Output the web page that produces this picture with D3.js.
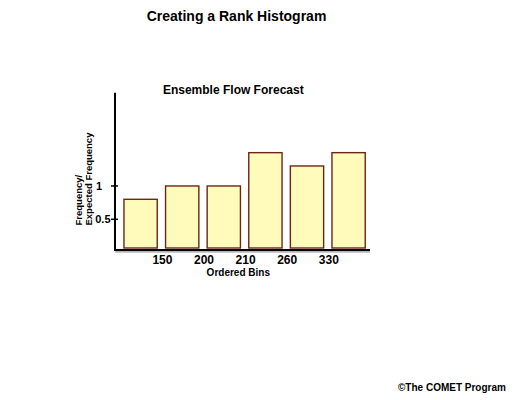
<!DOCTYPE html>
<html><head><meta charset="utf-8">
<script src="https://cdn.jsdelivr.net/npm/d3@7"></script>
<style>
html,body{margin:0;padding:0;background:#fff;}
text{font-family:"Liberation Sans",Arial,sans-serif;font-weight:bold;fill:#000;}
</style></head>
<body>
<svg id="c" width="517" height="400"></svg>
<script>
const bins = ["bin1","bin2","bin3","bin4","bin5","bin6"];
const values = [0.8, 1.0, 1.0, 1.5, 1.3, 1.5];
const edgeLabels = ["150","200","210","260","330"];
const yTicks = [0.5, 1];

const svg = d3.select("#c");
svg.append("rect").attr("width",517).attr("height",400).attr("fill","#fff");

const x = d3.scaleBand().domain(bins).range([119.8, 369.4]).paddingInner(0.2).paddingOuter(0.1);
const y = d3.scaleLinear().domain([0, 2.4]).range([252.6, 92.7]);
const axisY = 250;
const axisX = 115;

// titles
svg.append("text").attr("x",236.5).attr("y",20.5).attr("text-anchor","middle")
  .style("font-size","14px").text("Creating a Rank Histogram");
svg.append("text").attr("x",233.3).attr("y",93.5).attr("text-anchor","middle")
  .style("font-size","12px").text("Ensemble Flow Forecast");

// bars
svg.selectAll("rect.bar").data(values).join("rect").attr("class","bar")
  .attr("x",(d,i)=>x(bins[i])).attr("width",x.bandwidth())
  .attr("y",d=>y(d)).attr("height",d=>(axisY-2)-y(d))
  .attr("fill","#FFFBBA").attr("stroke","#6B2616").attr("stroke-width",1.4);

// x axis shadow + line
svg.append("line").attr("x1",axisX).attr("x2",x.range()[1]+0.6).attr("y1",axisY+1.8).attr("y2",axisY+1.8)
  .attr("stroke","#999").attr("stroke-width",1.2);
svg.append("line").attr("x1",axisX-1).attr("x2",x.range()[1]+0.6).attr("y1",axisY).attr("y2",axisY)
  .attr("stroke","#000").attr("stroke-width",2);
// y axis
svg.append("line").attr("x1",axisX).attr("x2",axisX).attr("y1",y(2.4)).attr("y2",axisY+1)
  .attr("stroke","#000").attr("stroke-width",2);

// y ticks
const yt = svg.append("g");
yt.selectAll("line").data(yTicks).join("line")
  .attr("x1",axisX-4).attr("x2",axisX+3).attr("y1",d=>y(d)).attr("y2",d=>y(d))
  .attr("stroke","#000").attr("stroke-width",1.5);
yt.selectAll("text").data(yTicks).join("text")
  .attr("x",d=> d===1 ? 102 : 110.5).attr("y",d=>y(d)+4).attr("text-anchor","end")
  .style("font-size","11px").text(d=>d===1?"1":"0.5");

// x edge labels (between bars)
const step = x.step();
svg.selectAll("text.xl").data(edgeLabels).join("text").attr("class","xl")
  .attr("x",(d,i)=>x(bins[i]) + x.bandwidth() + (step - x.bandwidth())/2 + 1)
  .attr("y",263.5).attr("text-anchor","middle").style("font-size","12px").text(d=>d);

svg.append("text").attr("x",238.3).attr("y",276).attr("text-anchor","middle")
  .style("font-size","10px").text("Ordered Bins");

// y label
svg.append("text").attr("transform","translate(82,225.5) rotate(-90)")
  .style("font-size","9.5px").text("Frequency/");
svg.append("text").attr("transform","translate(92,225.5) rotate(-90)")
  .style("font-size","9.5px").text("Expected Frequency");

// copyright
svg.append("text").attr("x",398).attr("y",391).style("font-size","10px").text("\u00A9The COMET Program");
</script>
</body></html>
